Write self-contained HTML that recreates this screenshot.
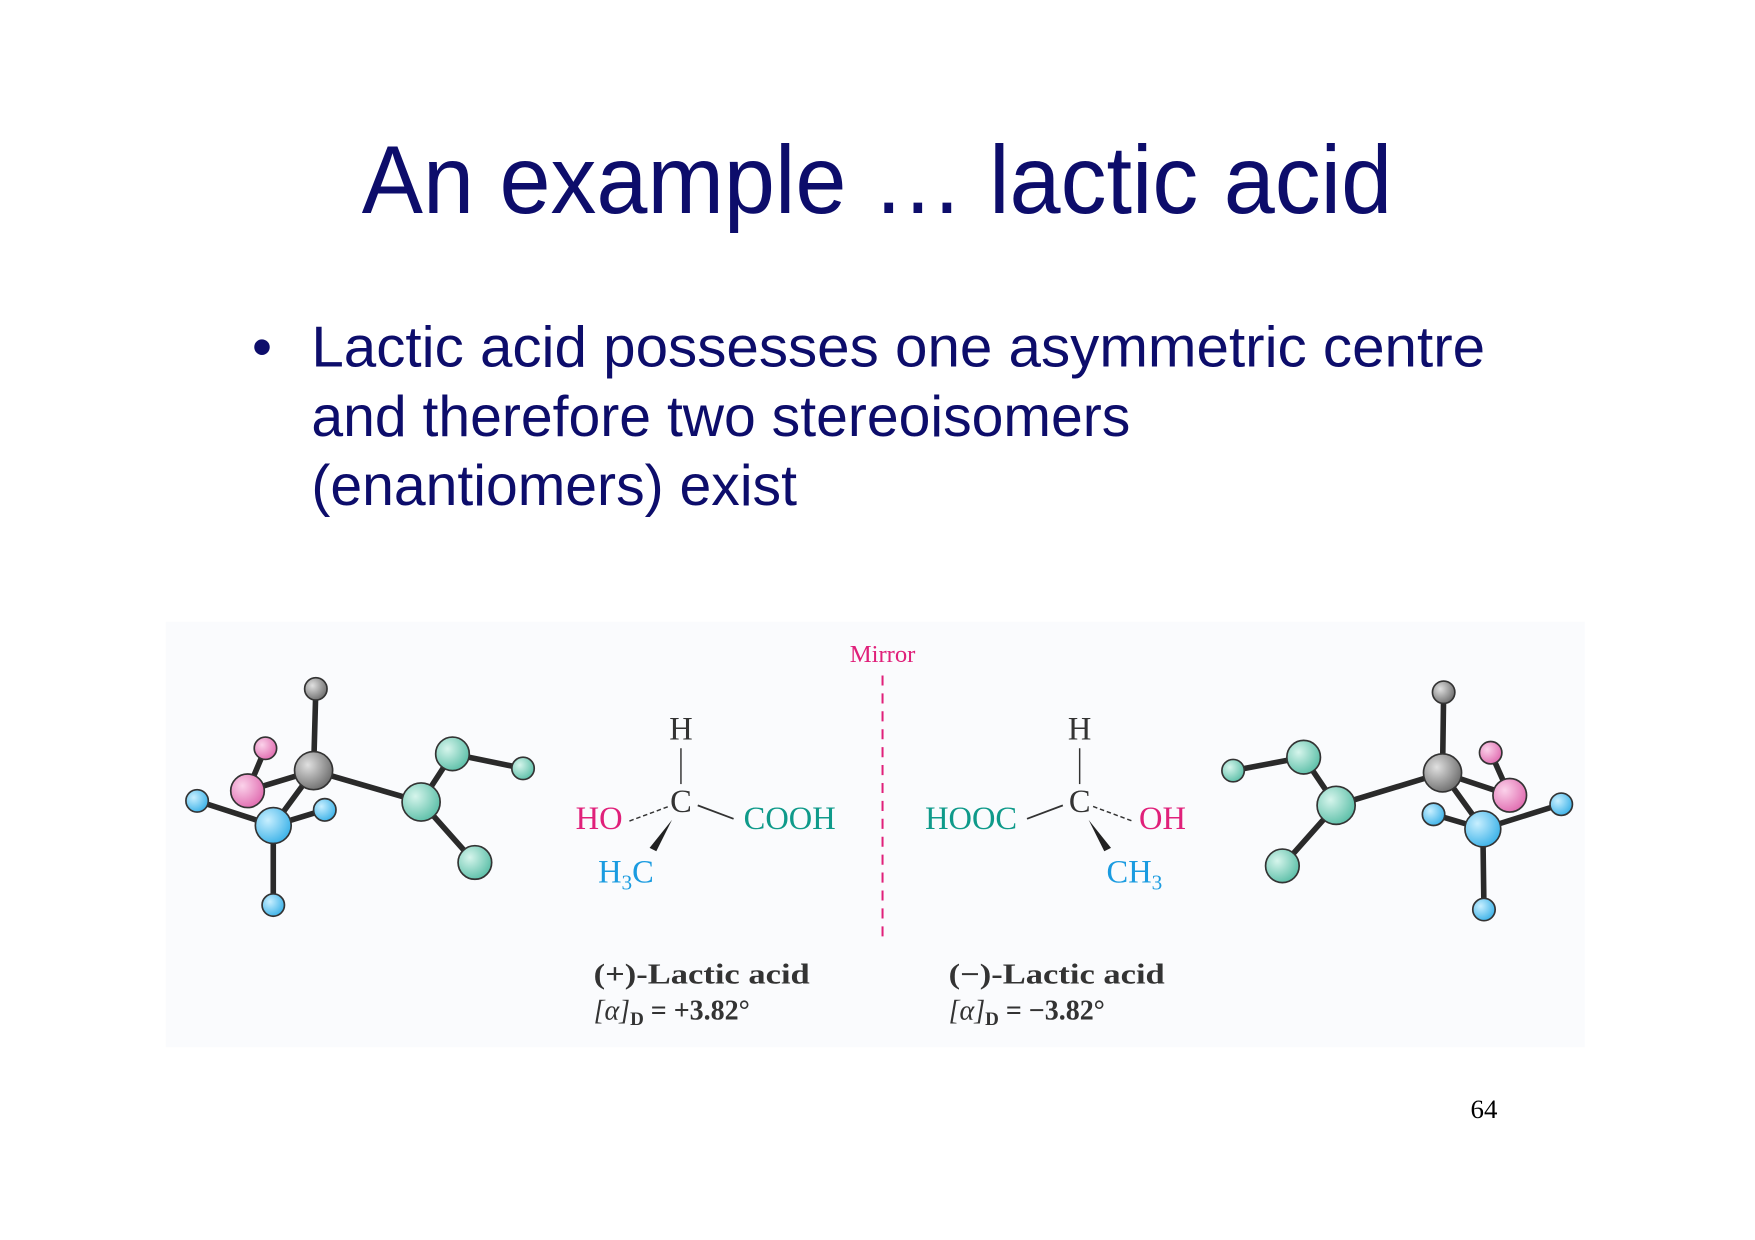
<!DOCTYPE html>
<html><head><meta charset="utf-8"><style>
html,body{margin:0;padding:0;background:#fff;width:1755px;height:1240px;overflow:hidden}
svg{display:block}
</style></head><body>
<svg width="1755" height="1240" viewBox="0 0 1567 1107" xmlns="http://www.w3.org/2000/svg">
<defs>
<radialGradient id="gGray" cx="35%" cy="35%" r="70%"><stop offset="0" stop-color="#e0e0e0"/><stop offset="1" stop-color="#6e6e6e"/></radialGradient>
<radialGradient id="gPink" cx="35%" cy="35%" r="70%"><stop offset="0" stop-color="#fbd2ea"/><stop offset="1" stop-color="#e06cb0"/></radialGradient>
<radialGradient id="gBlue" cx="35%" cy="35%" r="70%"><stop offset="0" stop-color="#c8efff"/><stop offset="1" stop-color="#3cb2e8"/></radialGradient>
<radialGradient id="gTeal" cx="35%" cy="35%" r="70%"><stop offset="0" stop-color="#d6f5ec"/><stop offset="1" stop-color="#5cbfa8"/></radialGradient>
</defs>
<rect x="148" y="555" width="1267" height="380" fill="#fafbfd"/>
<text x="783" y="190" text-anchor="middle" font-family="Liberation Sans, sans-serif" font-size="86" fill="#0d0d6b" textLength="920" lengthAdjust="spacingAndGlyphs">An example … lactic acid</text>
<g font-family="Liberation Sans, sans-serif" font-size="51" fill="#0d0d6b">
<text x="225" y="327">•</text>
<text x="278" y="327" textLength="1048" lengthAdjust="spacingAndGlyphs">Lactic acid possesses one asymmetric centre</text>
<text x="278" y="389">and therefore two stereoisomers</text>
<text x="278" y="451">(enantiomers) exist</text>
</g>

<g stroke="#2a2a2a" stroke-width="5" stroke-linecap="round">
<line x1="280" y1="688" x2="282" y2="615"/>
<line x1="280" y1="688" x2="221" y2="706"/>
<line x1="221" y1="706" x2="237" y2="668"/>
<line x1="244" y1="737" x2="176" y2="715"/>
<line x1="244" y1="737" x2="290" y2="723"/>
<line x1="244" y1="737" x2="244" y2="808"/>
<line x1="280" y1="688" x2="244" y2="737"/>
<line x1="280" y1="688" x2="376" y2="716"/>
<line x1="376" y1="716" x2="404" y2="673"/>
<line x1="404" y1="673" x2="467" y2="686"/>
<line x1="376" y1="716" x2="424" y2="770"/>
<g stroke="#333" stroke-width="1.5">
<circle cx="282" cy="615" r="10" fill="url(#gGray)"/>
<circle cx="237" cy="668" r="10" fill="url(#gPink)"/>
<circle cx="221" cy="706" r="15" fill="url(#gPink)"/>
<circle cx="280" cy="688" r="17" fill="url(#gGray)"/>
<circle cx="176" cy="715" r="10" fill="url(#gBlue)"/>
<circle cx="290" cy="723" r="10" fill="url(#gBlue)"/>
<circle cx="244" cy="737" r="16" fill="url(#gBlue)"/>
<circle cx="244" cy="808" r="10" fill="url(#gBlue)"/>
<circle cx="404" cy="673" r="15" fill="url(#gTeal)"/>
<circle cx="467" cy="686" r="10" fill="url(#gTeal)"/>
<circle cx="376" cy="716" r="17" fill="url(#gTeal)"/>
<circle cx="424" cy="770" r="15" fill="url(#gTeal)"/>
</g></g>

<g stroke="#2a2a2a" stroke-width="5" stroke-linecap="round">
<line x1="1288" y1="690" x2="1289" y2="618"/>
<line x1="1288" y1="690" x2="1348" y2="710"/>
<line x1="1348" y1="710" x2="1331" y2="672"/>
<line x1="1324" y1="740" x2="1280" y2="727"/>
<line x1="1324" y1="740" x2="1394" y2="718"/>
<line x1="1324" y1="740" x2="1325" y2="812"/>
<line x1="1288" y1="690" x2="1324" y2="740"/>
<line x1="1288" y1="690" x2="1193" y2="719"/>
<line x1="1193" y1="719" x2="1164" y2="676"/>
<line x1="1164" y1="676" x2="1101" y2="688"/>
<line x1="1193" y1="719" x2="1145" y2="773"/>
<g stroke="#333" stroke-width="1.5">
<circle cx="1289" cy="618" r="10" fill="url(#gGray)"/>
<circle cx="1331" cy="672" r="10" fill="url(#gPink)"/>
<circle cx="1288" cy="690" r="17" fill="url(#gGray)"/>
<circle cx="1348" cy="710" r="15" fill="url(#gPink)"/>
<circle cx="1280" cy="727" r="10" fill="url(#gBlue)"/>
<circle cx="1394" cy="718" r="10" fill="url(#gBlue)"/>
<circle cx="1324" cy="740" r="16" fill="url(#gBlue)"/>
<circle cx="1325" cy="812" r="10" fill="url(#gBlue)"/>
<circle cx="1164" cy="676" r="15" fill="url(#gTeal)"/>
<circle cx="1101" cy="688" r="10" fill="url(#gTeal)"/>
<circle cx="1193" cy="719" r="17" fill="url(#gTeal)"/>
<circle cx="1145" cy="773" r="15" fill="url(#gTeal)"/>
</g></g>

<text x="788" y="591" text-anchor="middle" font-family="Liberation Serif, serif" font-size="22" fill="#e0207a">Mirror</text>
<line x1="788" y1="603" x2="788" y2="840" stroke="#e0207a" stroke-width="1.8" stroke-dasharray="9,7"/>

<g font-family="Liberation Serif, serif" font-size="29">
<text x="608" y="660" text-anchor="middle" fill="#333">H</text>
<line x1="608" y1="668" x2="608" y2="700" stroke="#333" stroke-width="1.3"/>
<text x="608" y="725" text-anchor="middle" fill="#333">C</text>
<text x="514" y="740" fill="#e0207a">HO</text>
<line x1="562" y1="733" x2="597" y2="720" stroke="#333" stroke-width="1.3" stroke-dasharray="4,2.5"/>
<line x1="623" y1="719" x2="655" y2="731" stroke="#333" stroke-width="1.6"/>
<text x="664" y="740" fill="#0f9a8a">COOH</text>
<polygon points="600,732 580,757 586,760" fill="#222"/>
<text x="534" y="788" fill="#1a9be0">H<tspan font-size="19" dy="6">3</tspan><tspan dy="-6">C</tspan></text>
</g>
<g font-family="Liberation Serif, serif" font-size="29">
<text x="964" y="660" text-anchor="middle" fill="#333">H</text>
<line x1="964" y1="668" x2="964" y2="700" stroke="#333" stroke-width="1.3"/>
<text x="964" y="725" text-anchor="middle" fill="#333">C</text>
<text x="826" y="740" fill="#0f9a8a">HOOC</text>
<line x1="917" y1="731" x2="949" y2="719" stroke="#333" stroke-width="1.6"/>
<line x1="976" y1="720" x2="1011" y2="733" stroke="#333" stroke-width="1.3" stroke-dasharray="4,2.5"/>
<text x="1017" y="740" fill="#e0207a">OH</text>
<polygon points="972,732 986,760 992,757" fill="#222"/>
<text x="988" y="788" fill="#1a9be0">CH<tspan font-size="19" dy="6">3</tspan></text>
</g>

<g font-family="Liberation Serif, serif" font-size="25" font-weight="bold" fill="#333">
<text x="530" y="878" textLength="193" lengthAdjust="spacingAndGlyphs">(+)-Lactic acid</text>
<text x="530" y="910"><tspan font-weight="normal" font-style="italic">[α]</tspan><tspan font-size="17" dy="5">D</tspan><tspan dy="-5"> = +3.82°</tspan></text>
<text x="847" y="878" textLength="193" lengthAdjust="spacingAndGlyphs">(−)-Lactic acid</text>
<text x="847" y="910"><tspan font-weight="normal" font-style="italic">[α]</tspan><tspan font-size="17" dy="5">D</tspan><tspan dy="-5"> = −3.82°</tspan></text>
</g>

<text x="1325" y="998" text-anchor="middle" font-family="Liberation Serif, serif" font-size="24" fill="#000">64</text>
</svg>
</body></html>
